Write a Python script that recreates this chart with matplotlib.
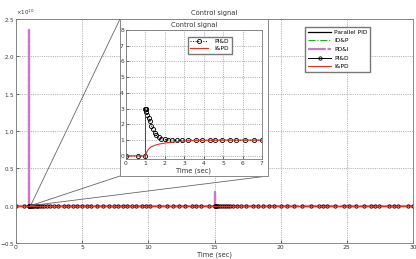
import matplotlib
matplotlib.use("Agg")
from matplotlib import pyplot as plt
from matplotlib.patches import Rectangle, ConnectionPatch
from matplotlib.ticker import ScalarFormatter

# PI&D: transient after the step at t = 1
pid_t_step = [0, 0.6, 1.0, 1.0, 1.01, 1.02, 1.05, 1.1, 1.17, 1.22, 1.31, 1.39,
              1.48, 1.56, 1.7, 1.82, 1.99, 2.14, 2.35, 2.6]
pid_v_step = [0, 0, 0, 3.0, 3.0, 2.95, 2.8, 2.62, 2.4, 2.2, 1.92, 1.68,
              1.46, 1.3, 1.17, 1.09, 1.04, 1.02, 1.01, 1.0]
# PI&D: sample times where the signal sits at 1.0
pid_t_tail = [2.9, 3.2, 3.6, 3.93, 4.3, 4.6, 4.95, 5.36, 5.66, 6.1, 6.6, 7.0,
              7.4, 7.7, 8.1, 8.4, 8.8, 9.1, 9.5, 9.8, 10.1, 10.8, 11.4, 11.9,
              12.3, 12.8, 13.3, 13.6, 14.0, 14.6, 15.0, 15.03, 15.06, 15.1,
              15.15, 15.2, 15.3, 15.4, 15.55, 15.7, 15.85, 16.0, 16.2, 16.4,
              16.7, 17.0, 17.4, 17.9, 18.3, 18.7, 19.1, 19.5, 20.0, 20.5, 21.0,
              21.6, 22.3, 22.9, 23.2, 23.5, 24.1, 24.8, 25.2, 25.7, 26.3, 26.8,
              27.1, 27.4, 28.2, 28.6, 28.9, 29.6, 30.0]

# I&PD
ipd_t = [0, 1.0, 1.05, 1.1, 1.2, 1.3, 1.5, 1.75, 2.0, 2.5, 3.0, 3.5, 4.0, 5.0, 30.0]
ipd_v = [0, 0, 0.18, 0.32, 0.48, 0.58, 0.68, 0.76, 0.81, 0.89, 0.94, 0.97, 0.985, 1.0, 1.0]

# Parallel PID and ID&P (flat at this scale)
par_t = [0, 1.0, 1.0, 1.5, 2.0, 3.0, 30.0]
par_v = [0, 0, 2.0, 1.3, 1.1, 1.0, 1.0]
idp_t = [0, 1.0, 1.5, 2.0, 3.0, 30.0]
idp_v = [0, 0, 0.6, 0.85, 1.0, 1.0]

# PD&I: derivative kicks at t = 1 and t = 15
pdi_t = [0, 1.0, 1.0, 1.0, 1.05, 15.0, 15.0, 15.0, 15.05, 30.0]
pdi_v = [0, 0, 2.35e10, 0, 1.0, 1.0, 0.18e10, 0, 1.0, 1.0]

pid_t = pid_t_step + pid_t_tail
pid_v = pid_v_step + [1.0] * len(pid_t_tail)

W, H = 416, 259
plt.rcParams['font.size'] = 4.5
plt.rcParams['axes.unicode_minus'] = False
fig = plt.figure(figsize=(W / 100, H / 100), dpi=100)
txt = '#333333'
edge = '#777777'
gridc = '#777777'

ax = fig.add_axes([16 / W, 1 - 243 / H, 397 / W, 224 / H])
ax.plot(par_t, par_v, color='black', lw=0.9, label='Parallel PID')
ax.plot(idp_t, idp_v, color='#22aa22', lw=0.8, ls='-.', label='ID&P')
ax.plot(pdi_t, pdi_v, color='#cc77cc', lw=1.6, ls='--', dashes=(8, 0.8), label='PD&I')
ax.plot(pid_t, pid_v, color='black', lw=0.7, marker='o', ms=2.4, mew=0.6,
        mfc='none', label='PI&D')
ax.plot(ipd_t, ipd_v, color='#dd3322', lw=0.8, label='I&PD')
ax.set_xlim(0, 30)
ax.set_ylim(-0.5e10, 2.5e10)
ax.set_xticks(range(0, 31, 5))
ax.set_yticks([-0.5e10, 0, 0.5e10, 1e10, 1.5e10, 2e10, 2.5e10])
fmt = ScalarFormatter(useMathText=True)
fmt.set_powerlimits((0, 0))
ax.yaxis.set_major_formatter(fmt)
ax.yaxis.get_offset_text().set_fontsize(4)
ax.yaxis.get_offset_text().set_color(txt)
ax.grid(True, ls=':', lw=0.5, color=gridc)
ax.tick_params(direction='in', length=2, width=0.5, colors=txt, pad=1.5, labelsize=4.3)
ax.tick_params(axis='y', pad=1, labelsize=4)
for s in ax.spines.values():
    s.set_color(edge)
    s.set_linewidth(0.6)
ax.set_title('Control signal', fontsize=4.8, color=txt, pad=3)
ax.set_xlabel('Time (sec)', fontsize=4.8, color=txt, labelpad=1)
ax.legend(loc='upper left', bbox_to_anchor=(302 / W, 1 - 24 / H),
          bbox_transform=fig.transFigure, fontsize=4.2, frameon=True,
          fancybox=False, edgecolor=edge, framealpha=1, handlelength=4,
          borderpad=0.5, labelspacing=0.6, handletextpad=0.5)

# white panel holding the zoomed view
px0, py0, pw, ph = 120 / W, 1 - 176 / H, 148 / W, 157 / H
panel = Rectangle((px0, py0), pw, ph, transform=fig.transFigure,
                  facecolor='white', edgecolor='#888888', lw=0.7, zorder=1)
fig.patches.append(panel)
for cx, cy in [(px0, py0 + ph), (px0, py0), (px0 + pw, py0)]:
    con = ConnectionPatch(xyA=(1.1, 0), coordsA=ax.transData,
                          xyB=(cx, cy), coordsB=fig.transFigure,
                          color='#666666', lw=0.6, zorder=0.9)
    fig.add_artist(con)

axi = fig.add_axes([126 / W, 1 - 159 / H, 136 / W, 129 / H], zorder=2)
axi.plot(pid_t, pid_v, color='black', lw=0.7, ls=':', marker='o', ms=3,
         mew=0.6, mfc='none', label='PI&D')
axi.plot([1.0, 1.0], [0, 3.0], color='#444444', lw=0.6)
axi.plot(ipd_t, ipd_v, color='#dd3322', lw=0.8, label='I&PD')
axi.set_xlim(0, 7)
axi.set_ylim(-0.2, 8)
axi.set_xticks(range(0, 8))
axi.set_yticks(range(0, 9))
axi.grid(True, ls=':', lw=0.5, color=gridc)
axi.tick_params(direction='in', length=2, width=0.5, colors=txt, pad=1.5, labelsize=4.3)
for s in axi.spines.values():
    s.set_color(edge)
    s.set_linewidth(0.6)
axi.set_title('Control signal', fontsize=4.8, color=txt, pad=2)
axi.set_xlabel('Time (sec)', fontsize=4.8, color=txt, labelpad=1)
axi.legend(loc='upper left', bbox_to_anchor=(185 / W, 1 - 34 / H),
           bbox_transform=fig.transFigure, fontsize=4.2, frameon=True,
           fancybox=False, edgecolor=edge, framealpha=1, handlelength=3,
           borderpad=0.4, labelspacing=0.3, handletextpad=1.2)

fig.savefig('out.png', dpi=100)
